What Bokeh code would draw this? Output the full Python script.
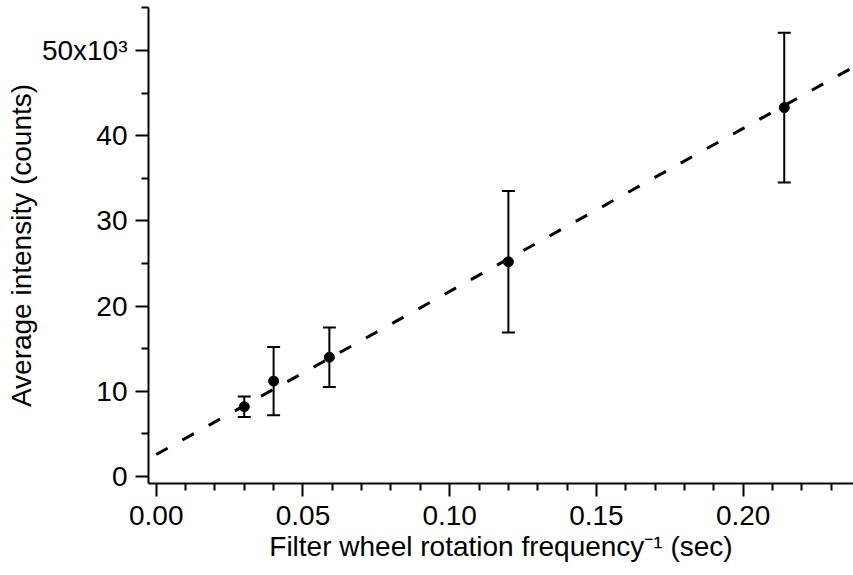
from bokeh.plotting import figure
from bokeh.models import Range1d, FixedTicker, ColumnDataSource, Whisker, TeeHead
from bokeh.embed import file_html
from bokeh.resources import INLINE

# ---- data ----
x_vals = [0.030, 0.040, 0.059, 0.120, 0.214]          # filter wheel rotation frequency^-1 (sec)
y_vals = [8.2, 11.2, 14.0, 25.2, 43.3]                # average intensity (x10^3 counts)
y_err = [1.2, 4.0, 3.5, 8.3, 8.8]                     # error bar half-heights (x10^3 counts)
fit_intercept = 2.58                                  # x10^3 counts
fit_slope = 191.4                                     # x10^3 counts per sec
fit_x = [0.0, 0.24]

x_major = [0.00, 0.05, 0.10, 0.15, 0.20]
x_labels = ["0.00", "0.05", "0.10", "0.15", "0.20"]
x_minor = [0.01, 0.02, 0.03, 0.04, 0.06, 0.07, 0.08, 0.09, 0.11, 0.12, 0.13, 0.14,
           0.16, 0.17, 0.18, 0.19, 0.21, 0.22, 0.23]
y_major = [0, 10, 20, 30, 40, 50]
y_labels = ["0", "10", "20", "30", "40", "50x10\u00b3"]
y_minor = [5, 15, 25, 35, 45, 55]

FONT = "Liberation Sans"
FS = "28px"

p = figure(width=853, height=575, output_backend="svg", toolbar_location=None,
           x_range=Range1d(-0.00263, 0.2376), y_range=Range1d(-0.82, 55.05),
           min_border_left=148, min_border_right=0, min_border_top=7, min_border_bottom=92)
p.xgrid.visible = False
p.ygrid.visible = False
p.outline_line_color = None
p.background_fill_color = "white"
p.border_fill_color = "white"

for ax, major, minor, labels in ((p.xaxis[0], x_major, x_minor, x_labels),
                                 (p.yaxis[0], y_major, y_minor, y_labels)):
    ax.ticker = FixedTicker(ticks=major, minor_ticks=minor)
    ax.major_label_overrides = {v: s for v, s in zip(major, labels)}
    ax.axis_line_width = 2
    ax.axis_line_color = "black"
    ax.major_tick_line_width = 2
    ax.minor_tick_line_width = 2
    ax.major_tick_line_color = "black"
    ax.minor_tick_line_color = "black"
    ax.major_tick_in = 0
    ax.minor_tick_in = 0
    ax.major_tick_out = 13
    ax.minor_tick_out = 7
    ax.major_label_text_font = FONT
    ax.major_label_text_font_size = FS
    ax.major_label_text_color = "black"
    ax.axis_label_text_font = FONT
    ax.axis_label_text_font_size = FS
    ax.axis_label_text_font_style = "normal"
    ax.axis_label_text_color = "black"

p.xaxis[0].axis_label = "Filter wheel rotation frequency\u207b\u00b9 (sec)"
p.yaxis[0].axis_label = "Average intensity (counts)"
p.xaxis[0].major_label_standoff = 9
p.yaxis[0].major_label_standoff = 8
p.xaxis[0].axis_label_standoff = 3
p.yaxis[0].axis_label_standoff = 2

# fit line
fit_y = [fit_intercept + fit_slope * xv for xv in fit_x]
p.line(fit_x, fit_y, line_color="black", line_width=3, line_dash="13 17")

# error bars
src = ColumnDataSource(dict(
    x=x_vals, y=y_vals,
    lower=[yv - e for yv, e in zip(y_vals, y_err)],
    upper=[yv + e for yv, e in zip(y_vals, y_err)],
))
w = Whisker(source=src, base="x", lower="lower", upper="upper", dimension="height",
            line_color="black", line_width=2,
            upper_head=TeeHead(size=13, line_width=2, line_color="black"),
            lower_head=TeeHead(size=13, line_width=2, line_color="black"))
p.add_layout(w)

p.scatter("x", "y", source=src, size=10, color="black")

open("out.html", "w").write(file_html(p, INLINE))
